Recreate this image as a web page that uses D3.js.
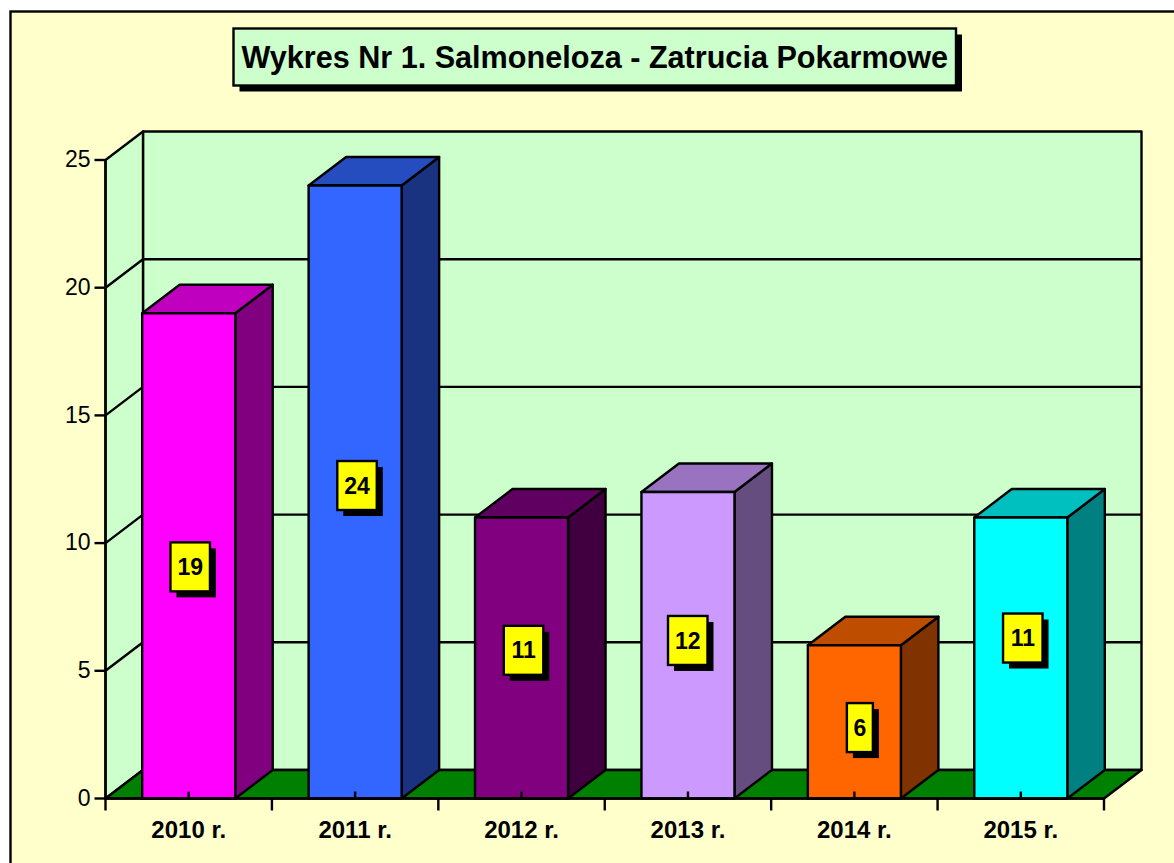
<!DOCTYPE html>
<html>
<head>
<meta charset="utf-8">
<script src="https://cdn.jsdelivr.net/npm/d3@7"></script>
<style>
	body { margin: 0; background: #fff; }
	svg { display: block; }
	text { font-family: "Liberation Sans", Arial, sans-serif; fill: #000; }
</style>
</head>
<body>
<svg class="chart"></svg>
<script>
const titleText = 'Wykres Nr 1. Salmoneloza - Zatrucia Pokarmowe';
const years = ['2010 r.', '2011 r.', '2012 r.', '2013 r.', '2014 r.', '2015 r.'];
const cases = [19, 24, 11, 12, 6, 11];
const barColors = ['#FF00FF', '#3366FF', '#800080', '#CC99FF', '#FF6600', '#00FFFF'];
const yTicks = [0, 5, 10, 15, 20, 25];

const width = 1174;
const height = 863;

// the value boxes do not sit exactly mid-bar in the original
const labelShiftX = [1.5, 1.9, 2, -0.2, 5.5, 2];
const labelShiftY = [11, -6.5, -7.7, -4.8, 5.7, -20];

const plotLeft = 105.5, plotRight = 1104, plotBottom = 798.5, plotTop = 160;
const depthX = 37.5, depthY = -28.5;
const lineWidth = 2.4;

const svg = d3.select('svg.chart')
	.attr('width', width)
	.attr('height', height);

const x = d3.scaleBand()
	.domain(years)
	.range([plotLeft, plotRight])
	.paddingInner(0.441)
	.paddingOuter(0.2205);

const y = d3.scaleLinear()
	.domain([0, 25])
	.range([plotBottom, plotTop]);

const line = d3.line();

const shade = (color, k) => {
	const c = d3.rgb(color);
	return d3.rgb(c.r * k, c.g * k, c.b * k).formatHex();
};

const poly = (points, fill) => svg.append('path')
	.attr('d', line(points) + 'Z')
	.attr('fill', fill)
	.attr('stroke', '#000')
	.attr('stroke-width', lineWidth)
	.attr('stroke-linejoin', 'round');

const box = (x0, y0, w, h, fill, text, fontSize) => {
	svg.append('rect')
		.attr('x', x0 + 6)
		.attr('y', y0 + 6)
		.attr('width', w)
		.attr('height', h)
		.attr('fill', '#000');
	svg.append('rect')
		.attr('x', x0)
		.attr('y', y0)
		.attr('width', w)
		.attr('height', h)
		.attr('fill', fill)
		.attr('stroke', '#000')
		.attr('stroke-width', lineWidth);
	svg.append('text')
		.attr('x', x0 + w / 2)
		.attr('y', y0 + h / 2)
		.attr('dy', '0.35em')
		.attr('text-anchor', 'middle')
		.attr('font-weight', 'bold')
		.attr('font-size', fontSize)
		.text(text);
};

// outer frame runs off the right and bottom of the picture
svg.append('rect')
	.attr('x', 10.5)
	.attr('y', 11.5)
	.attr('width', width)
	.attr('height', height)
	.attr('fill', '#FFFFCC')
	.attr('stroke', '#000')
	.attr('stroke-width', lineWidth);

box(233.5, 28.5, 722.5, 57, '#CCFFCC', titleText, 30.6);

// walls and floor
const backL = plotLeft + depthX, backR = plotRight + depthX;
poly([[backL, plotTop + depthY], [backR, plotTop + depthY], [backR, plotBottom + depthY], [backL, plotBottom + depthY]], '#CCFFCC');
poly([[plotLeft, plotBottom], [plotLeft, plotTop], [backL, plotTop + depthY], [backL, plotBottom + depthY]], '#CCFFCC');
poly([[plotLeft, plotBottom], [backL, plotBottom + depthY], [backR, plotBottom + depthY], [plotRight, plotBottom]], '#008000');

// grid lines
yTicks.slice(1, -1).forEach(v => {
	svg.append('path')
		.attr('d', line([[plotLeft, y(v)], [backL, y(v) + depthY], [backR, y(v) + depthY]]))
		.attr('fill', 'none')
		.attr('stroke', '#000')
		.attr('stroke-width', lineWidth);
});

// bars
years.forEach((year, i) => {
	const x0 = x(year), x1 = x0 + x.bandwidth();
	const y0 = y(cases[i]);
	poly([[x1, y0], [x1 + depthX, y0 + depthY], [x1 + depthX, plotBottom + depthY], [x1, plotBottom]], shade(barColors[i], 0.5));
	poly([[x0, y0], [x0 + depthX, y0 + depthY], [x1 + depthX, y0 + depthY], [x1, y0]], shade(barColors[i], 0.75));
	poly([[x0, y0], [x1, y0], [x1, plotBottom], [x0, plotBottom]], barColors[i]);
});

// axes
const yAxis = svg.append('g')
	.attr('transform', `translate(${plotLeft}, 0)`)
	.call(d3.axisLeft(y).tickValues(yTicks).tickSize(11).tickSizeOuter(0).tickPadding(4).offset(0));

yAxis.selectAll('text').attr('font-size', 23);

const xAxis = svg.append('g')
	.attr('transform', `translate(0, ${plotBottom})`)
	.call(d3.axisBottom(x).tickSize(-7).tickSizeOuter(0).tickPadding(0).offset(0));

xAxis.selectAll('text')
	.attr('y', 39.5)
	.attr('dy', 0)
	.attr('font-size', 24)
	.attr('font-weight', 'bold');

svg.selectAll('g .tick line, g .domain')
	.attr('stroke', '#000')
	.attr('stroke-width', lineWidth);

svg.selectAll('line.sep')
	.data(d3.range(years.length + 1))
	.enter().append('line')
		.attr('class', 'sep')
		.attr('x1', d => plotLeft + d * x.step())
		.attr('x2', d => plotLeft + d * x.step())
		.attr('y1', plotBottom)
		.attr('y2', plotBottom + 12)
		.attr('stroke', '#000')
		.attr('stroke-width', lineWidth);

// value boxes
years.forEach((year, i) => {
	const text = String(cases[i]);
	const w = text.length > 1 ? 39.5 : 26;
	const cx = x(year) + x.bandwidth() / 2 + labelShiftX[i];
	const cy = (y(cases[i]) + plotBottom) / 2 + labelShiftY[i];
	box(cx - w / 2, cy - 24.5, w, 49, '#FFFF00', text, 23);
});
</script>
</body>
</html>
